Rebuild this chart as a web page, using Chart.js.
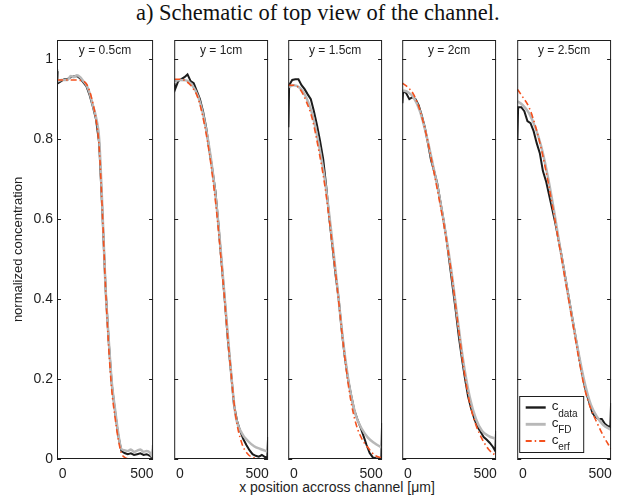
<!DOCTYPE html>
<html>
<head>
<meta charset="utf-8">
<script src="https://cdn.jsdelivr.net/npm/chart.js@4"></script>
<style>
  body { margin: 0; background: #fff; }
  #wrap { position: relative; width: 617px; height: 498px; overflow: hidden; }
  #wrap canvas { position: absolute; top: 0; }
  #title { position: absolute; left: 136px; top: 0px;
           font: 22.5px "Liberation Serif", "Times New Roman", serif; color: #111; white-space: nowrap; }
  #xlabel { position: absolute; left: 0; width: 674px; top: 479px; text-align: center;
            font: 14px "Liberation Sans", Arial, sans-serif; color: #1e1e1e; white-space: nowrap; }
</style>
</head>
<body>
<div id="wrap">
  <div id="title">a) Schematic of top view of the channel.</div>
  <div id="xlabel">x position accross channel [μm]</div>
</div>
<script>
const panelLabels = ["y = 0.5cm", "y = 1cm", "y = 1.5cm", "y = 2cm", "y = 2.5cm"];
const xTicks = [0, 500];
const yTicks = [0, 0.2, 0.4, 0.6, 0.8, 1];
const seriesNames = ["data", "FD", "erf"]; // subscripts of c

// x positions (µm) of the measured profile and of the fitted curves
const xData = [-35, -30, -10, 10, 30, 50, 70, 90, 110, 130, 150, 170, 190, 210, 230, 250, 270,
  290, 310, 330, 350, 370, 390, 410, 430, 450, 470, 490, 510, 530, 550, 565, 570];
const xFit = [-35, 0, 40, 80, 120, 160, 200, 240, 280, 320, 360, 400, 440, 480, 520, 570];

// y = 0.5cm (all on xData)
const data05 = [0.97, 0.94, 0.945, 0.95, 0.95, 0.955, 0.957, 0.958, 0.952, 0.942, 0.932, 0.91, 0.882, 0.85,
  0.79, 0.62, 0.43, 0.295, 0.185, 0.12, 0.06, 0.02, 0.015, 0.012, 0.014, 0.01, 0.012, 0.014, 0.01, 0.012,
  0.008, 0.003, 0.03];
const fd05 = [0.975, 0.945, 0.948, 0.948, 0.948, 0.958, 0.955, 0.96, 0.955, 0.945, 0.935, 0.915, 0.885,
  0.855, 0.80, 0.63, 0.43, 0.30, 0.19, 0.125, 0.065, 0.025, 0.022, 0.02, 0.024, 0.018, 0.021, 0.024, 0.018,
  0.02, 0.016, 0.006, 0.035];
const erf05 = [0.948, 0.948, 0.948, 0.948, 0.948, 0.948, 0.948, 0.948, 0.947, 0.945, 0.938, 0.92, 0.89,
  0.85, 0.78, 0.62, 0.43, 0.28, 0.17, 0.105, 0.05, 0.015, 0.004, 0.001, 0, 0, 0, 0, 0, 0, 0, 0, 0];

// y = 1cm
const data10 = [0.94, 0.925, 0.945, 0.95, 0.955, 0.962, 0.945, 0.94, 0.92, 0.9, 0.87, 0.83, 0.775, 0.725,
  0.67, 0.585, 0.49, 0.40, 0.30, 0.22, 0.135, 0.095, 0.07, 0.05, 0.035, 0.022, 0.012, 0.008, 0.006, 0.01,
  0.005, 0.003, 0.055];
const fd10 = [0.945, 0.948, 0.947, 0.935, 0.905, 0.845, 0.755, 0.625, 0.45, 0.265, 0.11, 0.065, 0.045,
  0.032, 0.025, 0.018];
const erf10 = [0.95, 0.95, 0.945, 0.93, 0.9, 0.835, 0.74, 0.61, 0.44, 0.26, 0.11, 0.04, 0.012, 0.003, 0, 0];

// y = 1.5cm
const data15 = [0.83, 0.935, 0.948, 0.95, 0.95, 0.935, 0.925, 0.912, 0.9, 0.87, 0.835, 0.795, 0.75, 0.68,
  0.60, 0.53, 0.46, 0.40, 0.32, 0.253, 0.20, 0.16, 0.123, 0.10, 0.08, 0.058, 0.035, 0.015, 0.004, 0.002,
  0.001, 0.002, 0.09];
const fd15 = [0.93, 0.935, 0.928, 0.905, 0.862, 0.79, 0.70, 0.575, 0.435, 0.29, 0.18, 0.11, 0.075, 0.053,
  0.04, 0.028];
const erf15 = [0.935, 0.935, 0.925, 0.895, 0.85, 0.775, 0.685, 0.565, 0.43, 0.285, 0.165, 0.09, 0.05, 0.028,
  0.01, 0.002];

// y = 2cm
const data20 = [0.89, 0.92, 0.915, 0.9, 0.905, 0.9, 0.885, 0.86, 0.83, 0.79, 0.748, 0.72, 0.69, 0.645, 0.60,
  0.55, 0.49, 0.43, 0.37, 0.305, 0.25, 0.20, 0.155, 0.125, 0.10, 0.08, 0.068, 0.055, 0.048, 0.04, 0.03,
  0.02, 0.07];
const fd20 = [0.922, 0.918, 0.903, 0.868, 0.81, 0.74, 0.665, 0.575, 0.475, 0.355, 0.24, 0.155, 0.1, 0.07,
  0.058, 0.05];
const erf20 = [0.94, 0.93, 0.91, 0.87, 0.81, 0.735, 0.655, 0.57, 0.47, 0.35, 0.23, 0.14, 0.085, 0.05, 0.025,
  0.008];

// y = 2.5cm
const data25 = [0.80, 0.88, 0.88, 0.87, 0.845, 0.84, 0.82, 0.79, 0.765, 0.72, 0.695, 0.66, 0.625, 0.59,
  0.55, 0.51, 0.465, 0.42, 0.375, 0.33, 0.285, 0.24, 0.20, 0.165, 0.14, 0.115, 0.105, 0.1, 0.1, 0.088,
  0.082, 0.08, 0.14];
const fd25 = [0.895, 0.885, 0.865, 0.83, 0.78, 0.71, 0.625, 0.53, 0.44, 0.35, 0.265, 0.19, 0.135, 0.105,
  0.085, 0.073];
const erf25 = [0.925, 0.905, 0.88, 0.835, 0.775, 0.70, 0.615, 0.525, 0.435, 0.345, 0.255, 0.175, 0.125,
  0.09, 0.058, 0.025];

const panels = [
  { data: data05, fd: fd05, erf: erf05, fitX: xData },
  { data: data10, fd: fd10, erf: erf10, fitX: xFit },
  { data: data15, fd: fd15, erf: erf15, fitX: xFit },
  { data: data20, fd: fd20, erf: erf20, fitX: xFit },
  { data: data25, fd: fd25, erf: erf25, fitX: xFit },
];

const panelLeft = [57, 172, 286, 400, 515];
const panelW = 101;
const FONT = '"Liberation Sans", Arial, Helvetica, sans-serif';
const INK = "#1e1e1e";

const toPts = (xs, ys) => xs.map((x, i) => ({ x, y: ys[i] }));

// box, inward y ticks and the panel caption
const framePlugin = {
  id: "frame",
  afterDatasetsDraw(chart, args, opts) {
    const { ctx, chartArea: a, scales } = chart;
    ctx.save();
    ctx.strokeStyle = INK;
    ctx.lineWidth = 1;
    ctx.strokeRect(a.left + 0.5, a.top + 0.5, a.width - 1, a.height - 1);
    ctx.beginPath();
    yTicks.forEach((v) => {
      const py = Math.round(scales.y.getPixelForValue(v)) + 0.5;
      ctx.moveTo(a.left, py); ctx.lineTo(a.left + 4, py);
      ctx.moveTo(a.right - 4, py); ctx.lineTo(a.right, py);
    });
    ctx.stroke();
    ctx.fillStyle = INK;
    ctx.font = "12px " + FONT;
    ctx.textAlign = "center";
    ctx.textBaseline = "middle";
    ctx.fillText(opts.caption, (a.left + a.right) / 2, 51);
    ctx.restore();
  },
};

// legend with subscripts (c_data, c_FD, c_erf)
const subLegendPlugin = {
  id: "subLegend",
  afterDraw(chart, args, opts) {
    if (!opts.show) return;
    const { ctx, chartArea: a } = chart;
    const bx = a.left + 2.5, by = a.bottom - 62.5, bw = 64, bh = 56;
    ctx.save();
    ctx.fillStyle = "#fff";
    ctx.fillRect(bx, by, bw, bh);
    ctx.strokeStyle = INK;
    ctx.lineWidth = 1;
    ctx.strokeRect(bx, by, bw, bh);
    chart.data.datasets.forEach((ds, i) => {
      const ry = by + 11 + i * 16.8;
      ctx.strokeStyle = ds.borderColor;
      ctx.lineWidth = ds.borderWidth + 0.4;
      ctx.setLineDash(ds.borderDash || []);
      ctx.beginPath();
      ctx.moveTo(bx + 6, ry); ctx.lineTo(bx + 26, ry);
      ctx.stroke();
      ctx.setLineDash([]);
      ctx.fillStyle = INK;
      ctx.textAlign = "left";
      ctx.textBaseline = "alphabetic";
      ctx.font = "13.5px " + FONT;
      ctx.fillText("c", bx + 32, ry + 2.5);
      ctx.font = "10px " + FONT;
      ctx.fillText(seriesNames[i], bx + 38.5, ry + 9);
    });
    ctx.restore();
  },
};

const wrap = document.getElementById("wrap");

panels.forEach((p, i) => {
  const first = i === 0;
  const canvas = document.createElement("canvas");
  const left = first ? 0 : panelLeft[i] - 3;
  canvas.width = first ? panelLeft[0] + panelW + 3 : panelW + 6;
  canvas.height = 498;
  canvas.style.left = left + "px";
  wrap.appendChild(canvas);

  new Chart(canvas, {
    type: "line",
    data: {
      datasets: [
        { label: "c_data", data: toPts(xData, p.data), borderColor: "#1c1c1c", borderWidth: 2, order: 3 },
        { label: "c_FD", data: toPts(p.fitX, p.fd), borderColor: "#b8b8b8", borderWidth: 2.5,
          cubicInterpolationMode: "monotone", order: 2 },
        { label: "c_erf", data: toPts(p.fitX, p.erf), borderColor: "#f4511e", borderWidth: 1.6,
          borderDash: [6, 3, 1.5, 3], cubicInterpolationMode: "monotone", order: 1 },
      ],
    },
    options: {
      responsive: false,
      animation: false,
      devicePixelRatio: 1,
      elements: { point: { radius: 0 }, line: { tension: 0 } },
      layout: { padding: { top: 40, bottom: 0, left: first ? 0 : 3, right: 3 } },
      plugins: {
        legend: { display: false },
        tooltip: { enabled: false },
        frame: { caption: panelLabels[i] },
        subLegend: { show: i === 4 },
      },
      scales: {
        x: {
          type: "linear",
          min: -36,
          max: 570,
          afterBuildTicks: (s) => { s.ticks = xTicks.map((v) => ({ value: v })); },
          afterFit: (s) => { s.height = 39; },
          grid: { display: false, drawTicks: false },
          border: { display: false },
          ticks: { font: { family: FONT, size: 14 }, color: INK, padding: 7, maxRotation: 0, autoSkip: false },
        },
        y: {
          type: "linear",
          display: first,
          min: 0,
          max: 1.048,
          afterBuildTicks: (s) => { s.ticks = yTicks.map((v) => ({ value: v })); },
          afterFit: (s) => { s.width = first ? 57 : 0; },
          grid: { display: false, drawTicks: false },
          border: { display: false },
          ticks: { font: { family: FONT, size: 14 }, color: INK, padding: 4, callback: (v) => String(v) },
          title: {
            display: true,
            text: "normalized concentration",
            font: { family: FONT, size: 13 },
            color: INK,
            padding: { top: 11, bottom: 0 },
          },
        },
      },
    },
    plugins: [framePlugin, subLegendPlugin],
  });
});
</script>
</body>
</html>
